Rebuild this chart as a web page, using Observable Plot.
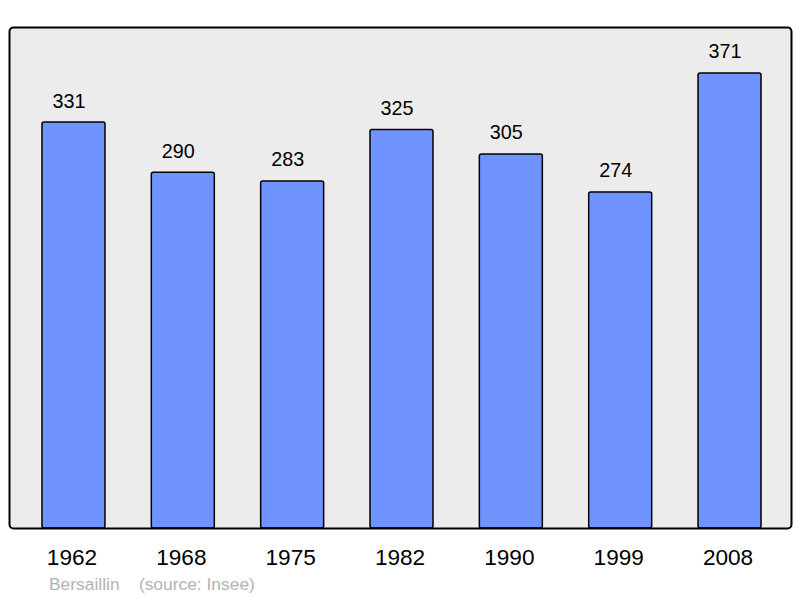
<!DOCTYPE html>
<html>
<head>
<meta charset="utf-8">
<script src="https://cdn.jsdelivr.net/npm/d3@7"></script>
<script src="https://cdn.jsdelivr.net/npm/@observablehq/plot@0.6"></script>
<style>
  html, body { margin: 0; padding: 0; background: #fff; }
  #wrap { position: relative; width: 800px; height: 598px; font-family: "Liberation Sans", Arial, sans-serif; }
  #caption { position: absolute; left: 49px; top: 574px; font-size: 17.4px; color: #b3b3b3; white-space: pre; }
</style>
</head>
<body>
<div id="wrap"><div id="chart"></div><div id="caption"></div></div>
<script>
const years = ["1962", "1968", "1975", "1982", "1990", "1999", "2008"];
const population = [331, 290, 283, 325, 305, 274, 371];
const commune = "Bersaillin";
const source = "(source: Insee)";

const data = years.map((y, i) => ({year: y, value: population[i]}));

const chart = Plot.plot({
  width: 800,
  height: 598,
  marginLeft: 9,
  marginRight: 9,
  marginTop: 27,
  marginBottom: 70,
  style: {fontFamily: "Liberation Sans, Arial, sans-serif", background: "white", overflow: "visible"},
  x: {domain: years, paddingInner: 0.424, paddingOuter: 0.212, insetLeft: 9.8, insetRight: 6.8, round: false, label: null},
  y: {domain: [0, 408.5], axis: null},
  marks: [
    Plot.frame({fill: "#ececec", stroke: "none"}),
    Plot.barY(data, {x: "year", y: "value", fill: "#7094ff", stroke: "black", strokeWidth: 1.5, rx: 2}),
    Plot.text(data, {x: "year", y: "value", text: d => String(d.value), dy: -15, dx: -5, lineAnchor: "bottom", fontSize: 19.8, fill: "black"}),
    Plot.frame({stroke: "black", strokeWidth: 2, rx: 4}),
    Plot.axisX({tickSize: 0, tickPadding: 20, dx: -2, fontSize: 22.6, label: null, color: "black"})
  ]
});
document.getElementById("chart").appendChild(chart);
document.getElementById("caption").textContent = commune + "    " + source;
</script>
</body>
</html>
